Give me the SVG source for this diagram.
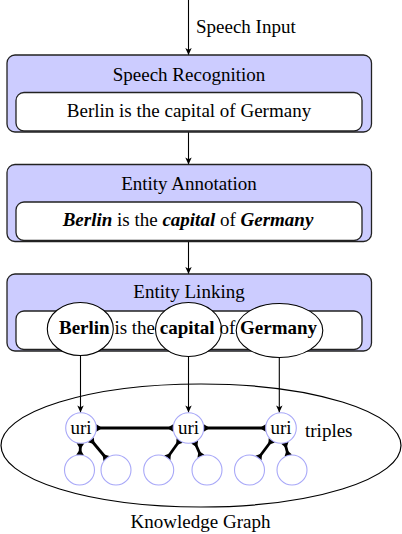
<svg xmlns="http://www.w3.org/2000/svg" width="402" height="534" viewBox="0 0 402 534">
  <style>
    text { font-family: "Liberation Serif", "Times New Roman", serif; font-size: 19px; fill: #000; }
    .mid { text-anchor: middle; }
    .outer { fill: #ccccff; stroke: #222; stroke-width: 1.3; }
    .inner { fill: #ffffff; stroke: #222; stroke-width: 1.3; }
    .ent { fill: #ffffff; stroke: #000; stroke-width: 1.1; }
    .conn { stroke: #000; stroke-width: 1.1; fill: none; marker-end: url(#arr); }
    .node { fill: #ffffff; stroke: #a8a8f8; stroke-width: 1.1; }
    .edge { stroke: #000; stroke-width: 2.8; fill: none; marker-start: url(#flare); marker-end: url(#flare); }
    .b { font-weight: bold; }
    .bi { font-weight: bold; font-style: italic; }
  </style>
  <defs>
    <marker id="arr" markerUnits="userSpaceOnUse" viewBox="-8 -5 10 10" markerWidth="10" markerHeight="10" refX="0" refY="0" orient="auto">
      <path d="M0,0 L-7,-3.2 L-5.2,0 L-7,3.2 Z" fill="#000"/>
    </marker>
    <marker id="flare" markerUnits="userSpaceOnUse" viewBox="-8 -5 10 10" markerWidth="10" markerHeight="10" refX="0" refY="0" orient="auto-start-reverse">
      <path d="M0,-3.8 L0,3.8 L-6,0 Z" fill="#000"/>
    </marker>
  </defs>

  <!-- connectors -->
  <g id="connectors">
    <line class="conn" x1="188.5" y1="0" x2="188.5" y2="55"/>
    <line class="conn" x1="188.5" y1="132" x2="188.5" y2="164.5"/>
    <line class="conn" x1="188.5" y1="241.5" x2="188.5" y2="274"/>
    <line class="conn" x1="80.5" y1="355" x2="80.5" y2="412.5"/>
    <line class="conn" x1="188.5" y1="356" x2="188.5" y2="412.5"/>
    <line class="conn" x1="279.3" y1="357" x2="279.3" y2="412.5"/>
  </g>
  <text x="196" y="33">Speech Input</text>

  <!-- box 1 -->
  <g id="speech-recognition">
    <rect class="outer" x="7" y="55" width="364.5" height="77" rx="8"/>
    <text class="mid" x="189" y="81">Speech Recognition</text>
    <rect class="inner" x="16" y="92.5" width="346" height="38.5" rx="8"/>
    <text class="mid" x="189" y="117">Berlin is the capital of Germany</text>
  </g>

  <!-- box 2 -->
  <g id="entity-annotation">
    <rect class="outer" x="7" y="164.5" width="364.5" height="77" rx="8"/>
    <text class="mid" x="189" y="189.5">Entity Annotation</text>
    <rect class="inner" x="16" y="202" width="346" height="38.5" rx="8"/>
    <text class="mid" x="188" y="226"><tspan class="bi">Berlin</tspan> is the <tspan class="bi">capital</tspan> of <tspan class="bi">Germany</tspan></text>
  </g>

  <!-- box 3 -->
  <g id="entity-linking">
    <rect class="outer" x="7" y="274" width="364.5" height="77" rx="8"/>
    <text class="mid" x="189" y="298">Entity Linking</text>
    <rect class="inner" x="16" y="311" width="346" height="38.5" rx="8"/>
    <ellipse class="ent" cx="80.3" cy="329" rx="33" ry="26.5"/>
    <ellipse class="ent" cx="188.5" cy="329.5" rx="33" ry="27"/>
    <ellipse class="ent" cx="279.5" cy="330.5" rx="43.3" ry="27"/>
    <text class="mid" x="188" y="334"><tspan class="b">Berlin</tspan> is the <tspan class="b">capital</tspan> of <tspan class="b">Germany</tspan></text>
  </g>

  <!-- knowledge graph -->
  <g id="knowledge-graph">
    <ellipse cx="201" cy="445.5" rx="200" ry="61.5" fill="none" stroke="#000" stroke-width="1.2"/>
    <text class="mid" x="200.5" y="528">Knowledge Graph</text>
    <text x="305" y="437">triples</text>
  </g>

  <g id="graph-edges">
    <line class="edge" x1="96.3" y1="428" x2="173.2" y2="428"/>
    <line class="edge" x1="203.8" y1="428" x2="265.7" y2="428"/>
    <line class="edge" x1="80.45" y1="443.3" x2="80.04" y2="455"/>
    <line class="edge" x1="90.8" y1="439.75" x2="106.4" y2="458.5"/>
    <line class="edge" x1="179.65" y1="440.48" x2="167.38" y2="457.77"/>
    <line class="edge" x1="194.67" y1="442" x2="200.95" y2="456.27"/>
    <line class="edge" x1="271.82" y1="440.24" x2="258.5" y2="458"/>
    <line class="edge" x1="284.88" y1="442.8" x2="288.2" y2="455.49"/>
  </g>

  <g id="uri1"><circle class="node" cx="81" cy="428" r="15.3"/><text class="mid" x="81" y="434">uri</text></g>
  <g id="uri2"><circle class="node" cx="188.5" cy="428" r="15.3"/><text class="mid" x="188.5" y="434">uri</text></g>
  <g id="uri3"><circle class="node" cx="281" cy="428" r="15.3"/><text class="mid" x="281" y="434">uri</text></g>
  <g id="leaf1"><circle class="node" cx="79.5" cy="470" r="15"/></g>
  <g id="leaf2"><circle class="node" cx="116" cy="470" r="15"/></g>
  <g id="leaf3"><circle class="node" cx="158.7" cy="470" r="15"/></g>
  <g id="leaf4"><circle class="node" cx="207" cy="470" r="15"/></g>
  <g id="leaf5"><circle class="node" cx="249.5" cy="470" r="15"/></g>
  <g id="leaf6"><circle class="node" cx="292" cy="470" r="15"/></g>
</svg>
